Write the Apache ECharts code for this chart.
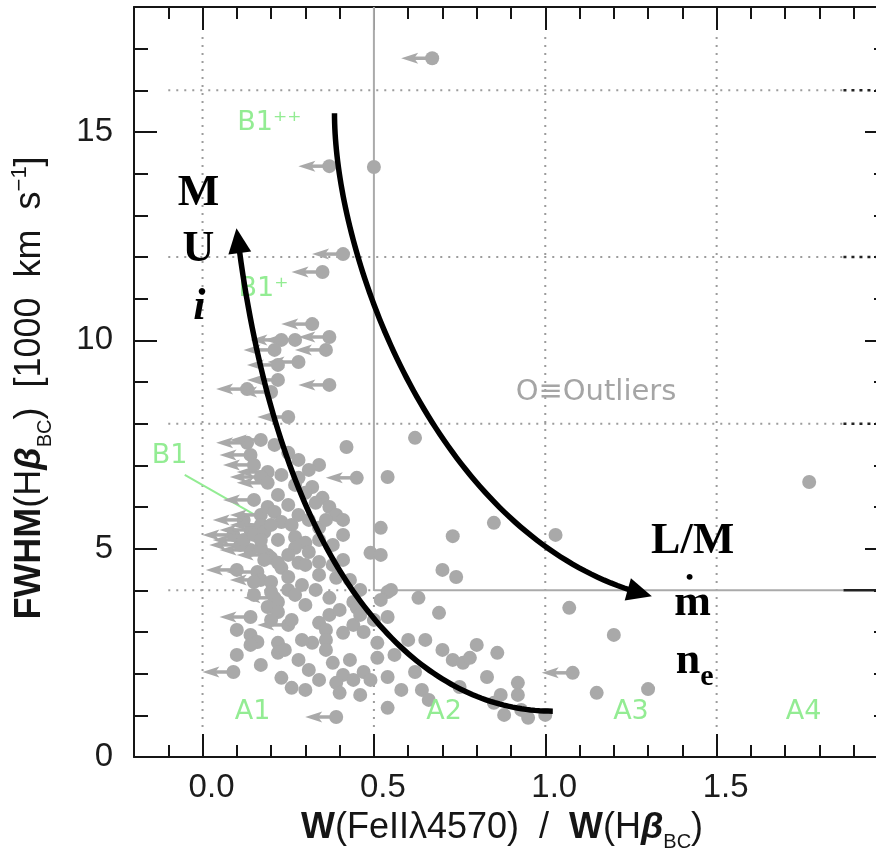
<!DOCTYPE html>
<html>
<head>
<meta charset="utf-8">
<script src="https://cdn.jsdelivr.net/npm/echarts@6/dist/echarts.min.js"></script>
<style>
  html, body { margin: 0; padding: 0; background: #ffffff; }
  #chart { width: 876px; height: 855px; }
</style>
</head>
<body>
<div id="chart"></div>
<script>
// Quasar sample in the optical plane: W(FeII λ4570)/W(Hβ_BC) vs FWHM(Hβ_BC) [1000 km/s]
const detections = [
  [0.50,14.16],
  [0.25,7.30],[0.23,6.77],[0.28,6.70],[0.34,7.01],[0.42,7.44],[0.62,7.66],[0.54,6.72],
  [0.32,6.48],[0.30,6.34],[0.35,6.22],[0.33,6.10],[0.37,6.00],[0.39,5.81],[0.41,5.69],
  [0.19,6.00],[0.21,5.88],[0.23,5.64],[0.15,5.33],[0.18,5.40],[0.26,5.57],[0.27,5.28],[0.30,5.14],[0.34,5.50],
  [0.52,5.50],[0.49,4.90],[0.52,4.85],[0.27,5.02],[0.31,4.92],[0.34,4.68],[0.38,4.61],
  [0.17,5.02],[0.20,4.78],[0.23,4.54],[0.20,4.20],[0.15,4.20],[0.22,4.66],[0.28,4.66],[0.25,4.32],[0.29,4.13],[0.25,4.01],[0.39,4.30],
  [0.44,3.72],[0.45,3.58],[0.54,3.96],[0.52,3.77],[0.55,4.01],[0.63,3.82],
  [0.30,3.65],[0.22,3.72],[0.19,3.60],[0.22,3.48],[0.20,3.29],
  [0.34,3.22],[0.37,3.41],[0.36,3.05],[0.41,2.98],[0.44,3.17],[0.47,3.00],[0.54,3.36],[0.69,3.46],
  [0.14,2.93],[0.16,2.76],[0.14,2.69],[0.10,2.45],[0.22,2.74],[0.22,2.50],[0.28,2.33],[0.31,2.09],[0.23,1.90],[0.26,1.66],
  [0.32,2.74],[0.36,2.81],[0.36,2.57],[0.43,2.33],[0.38,2.26],[0.51,2.74],[0.51,2.38],
  [0.34,1.85],[0.41,1.97],[0.39,1.78],[0.40,1.54],[0.47,2.04],[0.49,1.85],[0.54,1.92],
  [0.60,2.81],[0.65,2.81],[0.62,2.04],[0.64,1.61],[0.54,1.18],
  [1.03,5.33],[0.73,5.30],[0.85,5.62],[0.70,4.49],[0.74,4.32],[1.07,3.58],[1.20,2.93],
  [0.80,2.69],[0.73,2.33],[0.76,2.26],[0.78,2.38],[0.86,2.50],[0.83,1.92],[0.92,1.78],[0.75,1.68],
  [0.87,1.49],[0.92,1.49],[0.85,1.30],[1.15,1.54],[1.30,1.63],[1.00,1.01],[0.93,1.13],[1.77,6.60],
  [0.21,7.49],[0.28,7.13],[0.31,6.89],[0.27,6.53],[0.22,6.29],[0.25,6.05],[0.28,5.81],[0.31,5.69],
  [0.36,5.69],[0.20,5.57],[0.17,5.21],[0.22,5.21],[0.34,5.21],[0.38,5.09],[0.41,5.33],[0.25,4.85],
  [0.30,4.61],[0.34,4.37],[0.41,4.73],[0.43,4.25],[0.46,4.01],[0.18,4.73],[0.15,3.89],[0.20,3.96],
  [0.27,3.89],[0.33,4.01],[0.37,3.82],[0.40,3.53],[0.46,3.41],[0.50,3.29],[0.10,3.05],[0.26,3.29],
  [0.29,2.81],[0.24,2.57],[0.17,2.21],[0.30,1.61],[0.44,1.85],[0.46,1.49],[0.56,2.45],[0.58,1.61],
  [0.70,2.57],[0.66,1.37],[0.88,1.01],[0.95,0.94]
];

// Upper limits on the FeII ratio (drawn with a leftward arrow)
const upperLimits = [
  [0.67,16.77],[0.37,14.18],[0.41,12.07],[0.35,11.64],[0.32,10.39],[0.37,10.08],[0.27,10.01],[0.23,10.01],
  [0.21,9.77],[0.36,9.77],[0.28,9.48],[0.22,9.41],[0.22,9.05],[0.37,8.93],[0.13,8.83],[0.20,8.76],[0.25,8.16],
  [0.13,7.54],[0.17,7.61],[0.14,7.25],[0.19,6.84],[0.17,6.72],[0.19,6.58],[0.45,6.70],
  [0.12,5.69],[0.17,5.81],[0.09,5.33],[0.14,5.45],[0.14,4.97],[0.11,5.09],[0.10,4.49],[0.16,4.44],
  [0.14,3.36],[0.25,3.17],[0.09,2.04],[0.39,0.96],[1.08,2.02],
  [0.15,6.17],[0.17,5.57],[0.12,5.21],[0.19,4.85],[0.17,4.25],[0.21,3.82],[0.15,7.01]
];

// Axis ticks
const xMajorTicks = [0.0, 0.5, 1.0, 1.5];
const xMinorTicks = [-0.1, 0.1, 0.2, 0.3, 0.4, 0.6, 0.7, 0.8, 0.9, 1.1, 1.2, 1.3, 1.4, 1.6, 1.7, 1.8, 1.9];
const yMajorTicks = [0, 5, 10, 15];
const yMinorTicks = [1, 2, 3, 4, 6, 7, 8, 9, 11, 12, 13, 14, 16, 17];

// Bin boundaries of the A/B sequence and the outlier box corner
const binEdgesX = [0.0, 0.5, 1.0, 1.5];
const binEdgesY = [4, 8, 12, 16];
const outlierCorner = [0.5, 4];

// Labels of the bins
const zoneNames = ['A1', 'A2', 'A3', 'A4'];
const popBNames = ['B1', 'B1⁺', 'B1⁺⁺'];

const GREY = '#a9a9a9';
const INK = '#151515';
const GREEN = '#93ec93';

// Trend arrows (cubic Bézier control points, data units)
const trendCurves = [
  [[1.022, 1.10], [0.632, 1.10], [0.224, 4.25], [0.099, 12.69]],
  [[0.385, 15.45], [0.385, 11.93], [0.690, 5.09], [1.311, 3.86]]
];

function bezier(p, n) {
  const out = [];
  for (let i = 0; i <= n; i++) {
    const t = i / n, u = 1 - t;
    out.push([
      u*u*u*p[0][0] + 3*u*u*t*p[1][0] + 3*u*t*t*p[2][0] + t*t*t*p[3][0],
      u*u*u*p[0][1] + 3*u*u*t*p[1][1] + 3*u*t*t*p[2][1] + t*t*t*p[3][1]
    ]);
  }
  return out;
}

// Guide segments: [x1, y1, x2, y2, style]
// style 0 = grey dotted, 1 = grey solid, 2 = dark dotted, 3 = dark solid
const X_LO = -0.1, X_HI = 1.87, X_END = 2.0, Y_LO = 0.72, Y_HI = 17.4, Y_TOP = 18;
const guides = [];
binEdgesX.forEach(x => {
  if (x === outlierCorner[0]) {
    guides.push([x, Y_LO, x, outlierCorner[1], 0]);
    guides.push([x, outlierCorner[1], x, Y_TOP, 1]);
  } else {
    guides.push([x, Y_LO, x, Y_HI, 0]);
  }
});
binEdgesY.forEach(y => {
  if (y === outlierCorner[1]) {
    guides.push([X_LO, y, outlierCorner[0], y, 0]);
    guides.push([outlierCorner[0], y, X_HI, y, 1]);
    guides.push([X_HI, y, X_END, y, 3]);
  } else {
    guides.push([X_LO, y, X_HI, y, 0]);
    guides.push([X_HI, y, X_END, y, 2]);
  }
});
const guideStyles = [
  { stroke: '#9c9c9c', lineWidth: 2, lineDash: [2, 6] },
  { stroke: '#aaaaaa', lineWidth: 2 },
  { stroke: '#222222', lineWidth: 2.5, lineDash: [3, 5] },
  { stroke: '#222222', lineWidth: 2.5 }
];

// Text annotations anchored in data space
const serifBold = { fontFamily: 'Liberation Serif', fontWeight: 'bold', fontSize: 44, fill: '#000' };
const greenStyle = { fontFamily: 'DejaVu Sans', fontSize: 27, fill: GREEN };
const annotations = [
  { text: zoneNames[0], at: [0.146, 1.08], style: greenStyle },
  { text: zoneNames[1], at: [0.705, 1.08], style: greenStyle },
  { text: zoneNames[2], at: [1.250, 1.08], style: greenStyle },
  { text: zoneNames[3], at: [1.754, 1.08], style: greenStyle },
  { text: popBNames[0], at: [-0.096, 7.22], style: greenStyle },
  { text: popBNames[1], at: [0.178, 11.23], style: greenStyle },
  { text: popBNames[2], at: [0.195, 15.22], style: greenStyle },
  { text: 'O≡Outliers', at: [1.148, 8.74], style: { fontFamily: 'DejaVu Sans', fontSize: 29, fill: '#a5a5a5' } },
  { text: 'M', at: [-0.012, 13.53], style: serifBold },
  { text: 'U', at: [-0.012, 12.17], style: serifBold },
  { text: 'i', at: [-0.009, 10.78], style: Object.assign({}, serifBold, { fontStyle: 'italic' }) },
  { text: 'L/M', at: [1.430, 5.18], style: serifBold },
  { text: 'm', at: [1.430, 3.67], style: serifBold },
  { text: '•', at: [1.421, 4.30], style: Object.assign({}, serifBold, { fontSize: 22 }) },
  { text: '{n|n}{e|e}', at: [1.436, 2.28], style: Object.assign({}, serifBold, {
      rich: {
        n: { fontFamily: 'Liberation Serif', fontWeight: 'bold', fontSize: 44, fill: '#000' },
        e: { fontFamily: 'Liberation Serif', fontWeight: 'bold', fontSize: 30, fill: '#000', padding: [30, 0, 0, 0] }
      } }) }
];
// Pointer from the B1 label to its bin
const pointerLine = [[-0.052, 6.77], [0.204, 5.57]];

const chart = echarts.init(document.getElementById('chart'), null, { renderer: 'canvas' });

const tickLabel = { fontFamily: 'Liberation Sans', fontSize: 33, color: '#1c1c1c' };
const axisLineStyle = { color: INK, width: 2 };

function xAxis(position, values, len, withLine, withLabel) {
  return {
    type: 'value', min: -0.2, max: 2.0, position: position,
    axisLine: { show: withLine, onZero: false, lineStyle: axisLineStyle },
    axisTick: { show: true, inside: true, length: len, customValues: values, lineStyle: axisLineStyle },
    axisLabel: withLabel ? Object.assign({
      show: true, customValues: values, margin: 14, padding: [0, 0, 0, 18],
      formatter: v => v.toFixed(1)
    }, tickLabel) : { show: false },
    splitLine: { show: false }
  };
}
function yAxis(position, values, len, withLine, withLabel) {
  return {
    type: 'value', min: 0, max: 18, position: position,
    axisLine: { show: withLine, onZero: false, lineStyle: axisLineStyle },
    axisTick: { show: true, inside: true, length: len, customValues: values, lineStyle: axisLineStyle },
    axisLabel: withLabel ? Object.assign({
      show: true, customValues: values, margin: 21,
      formatter: v => String(v)
    }, tickLabel) : { show: false },
    splitLine: { show: false }
  };
}

const option = {
  backgroundColor: '#ffffff',
  animation: false,
  grid: { left: 134, right: -12, top: 7, bottom: 98, containLabel: false, outerBoundsMode: 'none' },
  xAxis: [
    xAxis('bottom', xMajorTicks, 23, true, true),
    xAxis('bottom', xMinorTicks, 12, false, false),
    xAxis('top', xMajorTicks, 23, true, false),
    xAxis('top', xMinorTicks, 12, false, false)
  ],
  yAxis: [
    yAxis('left', yMajorTicks, 23, true, true),
    yAxis('left', yMinorTicks, 14, false, false),
    yAxis('right', yMajorTicks, 23, true, false),
    yAxis('right', yMinorTicks, 14, false, false)
  ],
  graphic: [
    {
      type: 'text', x: 30, y: 388, rotation: Math.PI / 2, z: 100,
      style: {
        text: '{w|FWHM}(H{g|β}{s|BC})  [1000  km  s{p|−1}]',
        fontFamily: 'Liberation Sans', fontSize: 36, fill: INK,
        align: 'center', verticalAlign: 'middle', lineHeight: 44,
        rich: {
          w: { fontFamily: 'Liberation Sans', fontSize: 36, fontWeight: 'bold', fill: INK, lineHeight: 44 },
          g: { fontFamily: 'Liberation Sans', fontSize: 36, fontWeight: 'bold', fontStyle: 'italic', fill: INK, lineHeight: 44 },
          s: { fontFamily: 'Liberation Sans', fontSize: 20, fill: INK, lineHeight: 20, padding: [30, 0, 0, 0] },
          p: { fontFamily: 'Liberation Sans', fontSize: 22, fill: INK, lineHeight: 22, padding: [0, 0, 20, 0] }
        }
      }
    },
    {
      type: 'text', x: 502, y: 828, z: 100,
      style: {
        text: '{w|W}(FeIIλ4570)  /  {w|W}(H{g|β}{s|BC})',
        fontFamily: 'Liberation Sans', fontSize: 36, fill: INK,
        align: 'center', verticalAlign: 'middle', lineHeight: 44,
        rich: {
          w: { fontFamily: 'Liberation Sans', fontSize: 36, fontWeight: 'bold', fill: INK, lineHeight: 44 },
          g: { fontFamily: 'Liberation Sans', fontSize: 36, fontWeight: 'bold', fontStyle: 'italic', fill: INK, lineHeight: 44 },
          s: { fontFamily: 'Liberation Sans', fontSize: 20, fill: INK, lineHeight: 20, padding: [28, 0, 0, 0] }
        }
      }
    }
  ],
  series: [
    {
      // bin boundaries and outlier box
      type: 'custom', xAxisIndex: 0, yAxisIndex: 0, z: 1, silent: true,
      encode: { x: [0, 2], y: [1, 3] },
      data: guides,
      renderItem: function (params, api) {
        const a = api.coord([api.value(0), api.value(1)]);
        const b = api.coord([api.value(2), api.value(3)]);
        return {
          type: 'line',
          shape: { x1: a[0], y1: a[1], x2: b[0], y2: b[1] },
          style: Object.assign({ lineCap: 'butt' }, guideStyles[api.value(4)])
        };
      }
    },
    {
      // green pointer for the B1 label
      type: 'custom', xAxisIndex: 0, yAxisIndex: 0, z: 2, silent: true,
      data: [pointerLine[0]],
      renderItem: function (params, api) {
        const a = api.coord(pointerLine[0]);
        const b = api.coord(pointerLine[1]);
        return { type: 'line', shape: { x1: a[0], y1: a[1], x2: b[0], y2: b[1] },
                 style: { stroke: GREEN, lineWidth: 2 } };
      }
    },
    {
      type: 'scatter', xAxisIndex: 0, yAxisIndex: 0, z: 3,
      symbol: 'circle', symbolSize: 14,
      itemStyle: { color: GREY, opacity: 1 },
      data: detections
    },
    {
      type: 'custom', xAxisIndex: 0, yAxisIndex: 0, z: 3,
      data: upperLimits,
      renderItem: function (params, api) {
        const p = api.coord([api.value(0), api.value(1)]);
        const x = p[0], y = p[1];
        return {
          type: 'group',
          children: [
            { type: 'line', shape: { x1: x - 20, y1: y, x2: x, y2: y }, style: { stroke: GREY, lineWidth: 3.5 } },
            { type: 'polygon', shape: { points: [[x - 31, y], [x - 14, y - 5.5], [x - 18, y], [x - 14, y + 5.5]] }, style: { fill: GREY } },
            { type: 'circle', shape: { cx: x, cy: y, r: 7 }, style: { fill: GREY } }
          ]
        };
      }
    },
    {
      // text annotations
      type: 'custom', xAxisIndex: 0, yAxisIndex: 0, z: 4, silent: true,
      data: annotations.map(a => a.at),
      renderItem: function (params, api) {
        const a = annotations[params.dataIndex];
        const p = api.coord(a.at);
        return {
          type: 'text', x: p[0], y: p[1],
          style: Object.assign({ text: a.text, align: 'center', verticalAlign: 'middle' }, a.style)
        };
      }
    },
    {
      // trend arrows
      type: 'custom', xAxisIndex: 0, yAxisIndex: 0, z: 10, silent: true,
      data: trendCurves.map(c => c[3]),
      renderItem: function (params, api) {
        const pts = bezier(trendCurves[params.dataIndex], 90).map(q => api.coord(q));
        const tip = pts[pts.length - 1];
        const ref = pts[pts.length - 4];
        let dx = tip[0] - ref[0], dy = tip[1] - ref[1];
        const len = Math.hypot(dx, dy); dx /= len; dy /= len;
        const L = 25, W = 23;
        const bx = tip[0] - dx * L, by = tip[1] - dy * L;
        const stem = pts.filter(q => Math.hypot(q[0] - tip[0], q[1] - tip[1]) > L);
        stem.push([bx + dx * 3, by + dy * 3]);
        return {
          type: 'group',
          children: [
            { type: 'polyline', shape: { points: stem }, style: { stroke: '#000', lineWidth: 5.5, fill: 'none' } },
            { type: 'polygon', shape: { points: [tip, [bx - dy * W / 2, by + dx * W / 2], [bx + dy * W / 2, by - dx * W / 2]] }, style: { fill: '#000' } }
          ]
        };
      }
    }
  ]
};

chart.setOption(option);
</script>
</body>
</html>
